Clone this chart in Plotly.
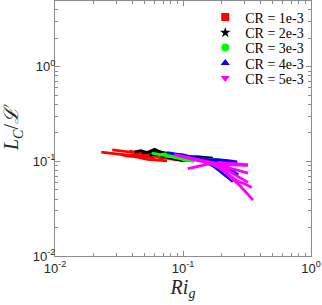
import plotly.graph_objects as go

# ---- data ----
red_x = [
    [0.023, 0.026, 0.030, 0.034, 0.038, 0.043, 0.048, 0.054, 0.060],
    [0.028, 0.031, 0.035, 0.040, 0.045, 0.050, 0.056, 0.063, 0.070],
    [0.033, 0.037, 0.042, 0.047, 0.053, 0.060, 0.067, 0.075],
    [0.038, 0.043, 0.049, 0.055, 0.062, 0.070, 0.080, 0.090],
    [0.045, 0.052, 0.060, 0.068, 0.078, 0.088, 0.100, 0.108],
]
red_y = [
    [0.125, 0.122, 0.120, 0.118, 0.116, 0.117, 0.113, 0.111, 0.108],
    [0.132, 0.130, 0.128, 0.126, 0.124, 0.122, 0.118, 0.113, 0.106],
    [0.118, 0.114, 0.112, 0.108, 0.105, 0.104, 0.102, 0.101],
    [0.128, 0.125, 0.121, 0.118, 0.113, 0.109, 0.106, 0.104],
    [0.120, 0.118, 0.116, 0.113, 0.112, 0.115, 0.118, 0.114],
]
black_x = [
    [0.042, 0.047, 0.052, 0.058, 0.064, 0.071, 0.079, 0.088],
    [0.048, 0.054, 0.060, 0.067, 0.075, 0.084, 0.094, 0.105, 0.118],
    [0.055, 0.062, 0.069, 0.077, 0.086, 0.097, 0.110, 0.125, 0.140],
    [0.062, 0.070, 0.079, 0.089, 0.100, 0.113, 0.128, 0.150, 0.171],
]
black_y = [
    [0.126, 0.130, 0.124, 0.128, 0.121, 0.118, 0.115, 0.112],
    [0.122, 0.126, 0.134, 0.124, 0.116, 0.110, 0.106, 0.104, 0.103],
    [0.116, 0.120, 0.114, 0.110, 0.105, 0.102, 0.104, 0.106, 0.104],
    [0.128, 0.124, 0.120, 0.114, 0.112, 0.110, 0.112, 0.110, 0.108],
]
green_x = [
    [0.057, 0.064, 0.071, 0.079, 0.088, 0.098, 0.110, 0.123],
    [0.064, 0.072, 0.081, 0.091, 0.102, 0.114, 0.128, 0.145, 0.165],
    [0.072, 0.081, 0.091, 0.103, 0.116, 0.131, 0.148, 0.168, 0.190],
    [0.085, 0.096, 0.108, 0.122, 0.138, 0.156, 0.177, 0.200, 0.230],
]
green_y = [
    [0.122, 0.118, 0.115, 0.113, 0.110, 0.106, 0.102, 0.100],
    [0.116, 0.120, 0.117, 0.112, 0.108, 0.105, 0.103, 0.101, 0.100],
    [0.114, 0.112, 0.108, 0.104, 0.103, 0.104, 0.106, 0.104, 0.102],
    [0.112, 0.110, 0.108, 0.106, 0.105, 0.104, 0.105, 0.103, 0.101],
]
blue_x = [
    [0.075, 0.084, 0.094, 0.106, 0.119, 0.134, 0.151, 0.170, 0.192],
    [0.090, 0.101, 0.114, 0.128, 0.144, 0.162, 0.183, 0.206, 0.232, 0.265],
    [0.105, 0.118, 0.133, 0.150, 0.169, 0.190, 0.214, 0.240, 0.270],
    [0.120, 0.135, 0.152, 0.171, 0.192, 0.215, 0.246],
]
blue_y = [
    [0.124, 0.122, 0.118, 0.114, 0.110, 0.106, 0.100, 0.092, 0.083],
    [0.118, 0.116, 0.113, 0.110, 0.106, 0.104, 0.104, 0.103, 0.101, 0.099],
    [0.112, 0.110, 0.107, 0.104, 0.100, 0.096, 0.090, 0.080, 0.072],
    [0.108, 0.104, 0.098, 0.090, 0.080, 0.070, 0.061],
]
magenta_x = [
    [0.085, 0.096, 0.108, 0.122, 0.138, 0.156, 0.176, 0.200, 0.228, 0.260, 0.322],
    [0.090, 0.102, 0.115, 0.130, 0.147, 0.166, 0.188, 0.212, 0.240, 0.272, 0.322],
    [0.095, 0.107, 0.121, 0.137, 0.155, 0.175, 0.198, 0.224, 0.253, 0.285, 0.322],
    [0.100, 0.113, 0.128, 0.145, 0.164, 0.185, 0.209, 0.236, 0.267, 0.302, 0.345],
    [0.105, 0.119, 0.134, 0.152, 0.172, 0.194, 0.219, 0.248, 0.280, 0.316, 0.352],
    [0.109, 0.122, 0.137, 0.154, 0.173, 0.194, 0.218, 0.245, 0.275, 0.322],
]
magenta_y = [
    [0.118, 0.114, 0.110, 0.106, 0.102, 0.099, 0.096, 0.093, 0.092, 0.092, 0.091],
    [0.116, 0.112, 0.108, 0.104, 0.100, 0.096, 0.092, 0.088, 0.084, 0.080, 0.075],
    [0.114, 0.110, 0.106, 0.102, 0.098, 0.094, 0.088, 0.080, 0.072, 0.066, 0.060],
    [0.112, 0.108, 0.104, 0.100, 0.095, 0.088, 0.080, 0.070, 0.062, 0.058, 0.053],
    [0.110, 0.106, 0.102, 0.098, 0.093, 0.085, 0.074, 0.064, 0.055, 0.046, 0.039],
    [0.084, 0.087, 0.090, 0.093, 0.095, 0.096, 0.096, 0.095, 0.094, 0.092],
]

series_names = ["CR = 1e-3", "CR = 2e-3", "CR = 3e-3", "CR = 4e-3", "CR = 5e-3"]
series_colors = ["#ff0000", "#000000", "#00ff00", "#0000ff", "#ff00ff"]
series_symbols = ["square", "star", "circle", "triangle-up", "triangle-down"]
series_x = [red_x, black_x, green_x, blue_x, magenta_x]
series_y = [red_y, black_y, green_y, blue_y, magenta_y]

x_tickvals = [0.01, 0.1, 1]
x_ticktext = ["10<sup>-2</sup>", "10<sup>-1</sup>", "10<sup>0</sup>"]
y_tickvals = [0.01, 0.1, 1]
y_ticktext = ["10<sup>-2</sup>", "10<sup>-1</sup>", "10<sup>0</sup>"]
x_minor = [0.02, 0.03, 0.04, 0.05, 0.06, 0.07, 0.08, 0.09,
           0.2, 0.3, 0.4, 0.5, 0.6, 0.7, 0.8, 0.9]
y_minor = x_minor + [2, 3, 4, 5]

fig = go.Figure()
for xs, ys, col in zip(series_x, series_y, series_colors):
    for lx, ly in zip(xs, ys):
        fig.add_trace(go.Scatter(x=lx, y=ly, mode="lines",
                                 line=dict(color=col, width=2.8),
                                 showlegend=False, hoverinfo="skip"))

legend_ids = ["legend", "legend2", "legend3", "legend4", "legend5"]
for name, col, sym, lid in zip(series_names, series_colors, series_symbols, legend_ids):
    fig.add_trace(go.Scatter(x=[None], y=[None], mode="markers", name=name,
                             marker=dict(color=col, symbol=sym, size=8),
                             legend=lid))

axis_common = dict(
    type="log", showgrid=False, zeroline=False, automargin=False,
    showline=True, linecolor="#8c8c8c", linewidth=1, mirror="ticks",
    ticks="inside", ticklen=5, tickcolor="#8c8c8c",
    tickfont=dict(family="Liberation Sans, Arial", size=13, color="#262626"),
)

legend_style = dict(xanchor="left", yanchor="middle",
                    bgcolor="rgba(0,0,0,0)", borderwidth=0,
                    font=dict(family="Liberation Serif, serif", size=14, color="#000000"),
                    itemwidth=30)
plot_top, plot_h = 1, 255
row_px = [17.5, 33, 48, 63.5, 78.5]
legend_layout = {}
for lid, py in zip(legend_ids, row_px):
    legend_layout[lid] = dict(legend_style, x=0.587, y=1 - (py - plot_top) / plot_h)

fig.update_layout(
    width=322, height=305,
    margin=dict(l=55, r=11, t=1, b=49),
    paper_bgcolor="white", plot_bgcolor="white",
    xaxis=dict(axis_common, range=[-2, 0], tickvals=x_tickvals, ticktext=x_ticktext,
               minor=dict(ticks="inside", ticklen=3, tickcolor="#8c8c8c", showgrid=False,
                          tickvals=x_minor),
               title=dict(text="<i>Ri</i><sub><i>g</i></sub>",
                          font=dict(family="Liberation Serif, serif", size=20, color="#262626"),
                          standoff=2)),
    yaxis=dict(axis_common, range=[-2, 0.695], tickvals=y_tickvals, ticktext=y_ticktext,
               minor=dict(ticks="inside", ticklen=3, tickcolor="#8c8c8c", showgrid=False,
                          tickvals=y_minor),
               ticklabelstandoff=-4,
               title=dict(text="<i>L</i><sub><i>C</i></sub>/<i>ℒ</i>",
                          font=dict(family="Liberation Serif, serif", size=20, color="#262626"),
                          standoff=8)),
    **legend_layout,
)

fig.write_html("out.html", config={"displayModeBar": False},
               post_script="document.body.style.margin='0';document.body.style.overflow='hidden';")
